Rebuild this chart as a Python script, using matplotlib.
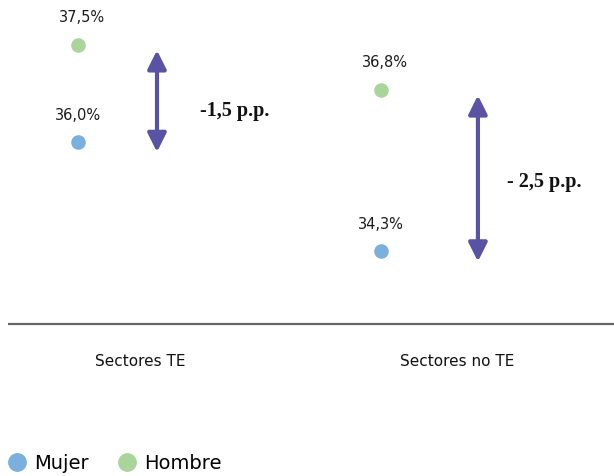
import matplotlib
matplotlib.use("Agg")
import matplotlib.pyplot as plt
from matplotlib.lines import Line2D

# data
categories = ["Sectores TE", "Sectores no TE"]
mujer = [36.0, 34.3]
hombre = [37.5, 36.8]
diff_labels = ["-1,5 p.p.", "- 2,5 p.p."]

c_mujer = "#7bb0dd"
c_hombre = "#a9d59b"
c_arrow = "#5a52a3"

plt.rcParams['font.family'] = ['DejaVu Sans']

fig = plt.figure(figsize=(6.14, 4.76), dpi=100)
ax = fig.add_axes([0, 0, 1, 1])
ax.set_xlim(-0.257, 1.769)
ax.set_ylim(30.81, 38.2)
ax.axis("off")

xs = list(range(len(categories)))

def fmt(v):
    return f"{v:.1f}%".replace(".", ",")

ax.scatter(xs, mujer, s=110, color=c_mujer, zorder=3, linewidths=0)
ax.scatter(xs, hombre, s=110, color=c_hombre, zorder=3, linewidths=0)

for x, m, h in zip(xs, mujer, hombre):
    ax.annotate(fmt(m), (x, m), xytext=(0, 19), textcoords="offset points",
                ha="center", va="center", fontsize=10.5, color="#1a1a1a")
    ax.annotate(fmt(h), (x, h), xytext=(3, 20), textcoords="offset points",
                ha="center", va="center", fontsize=10.5, color="#1a1a1a")

# arrows showing the gap
arrow_x = [0.261, 1.32]
text_x = [0.403, 1.416]
text_dy = [-0.15, -0.05]
for i, (m, h) in enumerate(zip(mujer, hombre)):
    top = h - 0.08
    bot = m - 0.16
    ax.annotate("", xy=(arrow_x[i], bot), xytext=(arrow_x[i], top),
                arrowprops=dict(arrowstyle="<|-|>", lw=3.0, color=c_arrow,
                                mutation_scale=28, shrinkA=0, shrinkB=0))
    ax.text(text_x[i], (top + bot) / 2 + text_dy[i], diff_labels[i], ha="left", va="center",
            fontsize=14.5, fontweight="bold", family="Liberation Serif", color="#111111")

# baseline
base_y = 33.17
ax.plot([-0.231, 1.769], [base_y, base_y], color="#666666", lw=1.6, solid_capstyle="butt")

label_x = [0.205, 1.25]
for lx, cat in zip(label_x, categories):
    ax.text(lx, 32.59, cat, ha="center", va="center", fontsize=11, color="#111111")

handles = [
    Line2D([], [], marker="o", ls="", markersize=12.5, color=c_mujer, label="Mujer"),
    Line2D([], [], marker="o", ls="", markersize=12.5, color=c_hombre, label="Hombre"),
]
fig.legend(handles=handles, loc="lower left", bbox_to_anchor=(-0.022, -0.03),
           ncol=2, frameon=False, fontsize=14, handletextpad=0.25,
           columnspacing=1.3, handlelength=1.3)

fig.savefig("out.png", dpi=100)
